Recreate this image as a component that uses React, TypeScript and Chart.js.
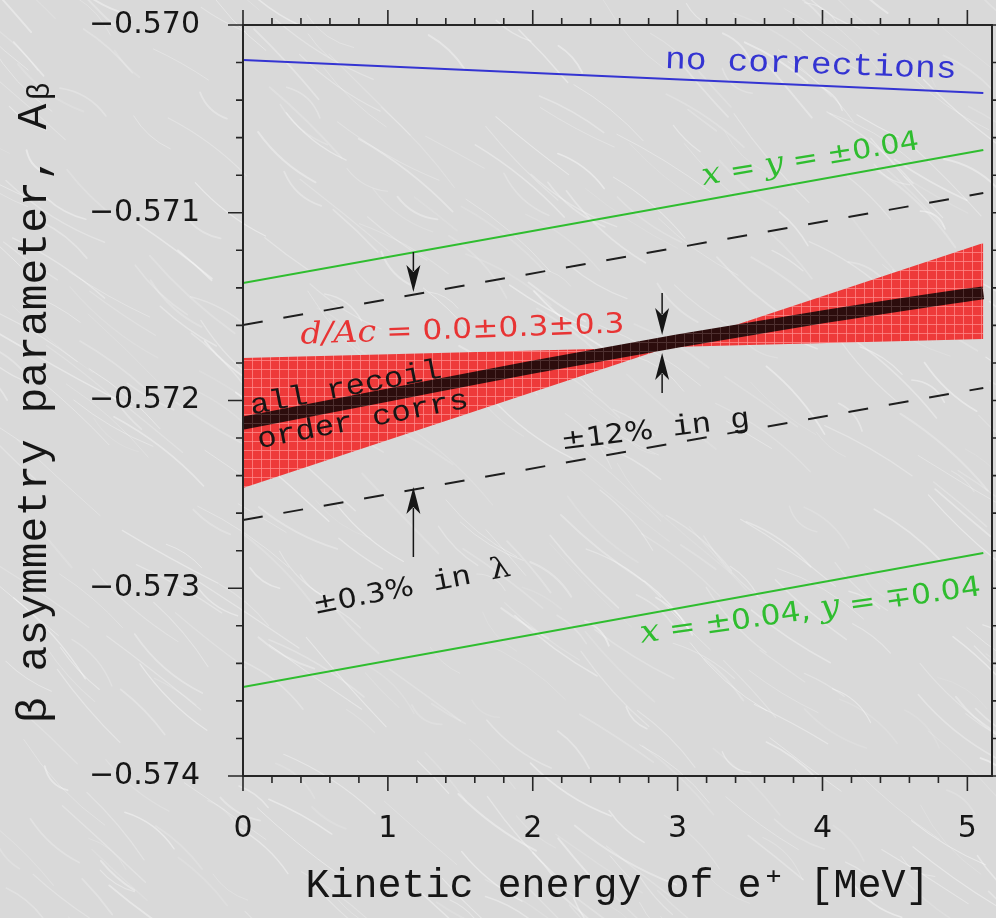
import React, { useEffect, useRef } from 'react';
import { Chart, registerables } from 'chart.js';

Chart.register(...registerables);

// ---------- data ----------
const xEnds = [0, 5.11];
const noCorrections = [-0.570186, -0.570362];
const xyEqual = [-0.571374, -0.570666];
const xyOpposite = [-0.573526, -0.572812];
const lambdaUpper = [-0.571598, -0.570895];
const lambdaLower = [-0.572637, -0.571933];
const recoilX = [0, 1, 2, 3, 4, 5, 5.11];
const allRecoil = [-0.57212, -0.571971, -0.571822, -0.571683, -0.571555, -0.571438, -0.571427];
const dAcFlat = [-0.571774, -0.571672];
const dAcSteep = [-0.572466, -0.571161];

const xTicks = [0, 1, 2, 3, 4, 5];
const yTicks = [-0.574, -0.573, -0.572, -0.571, -0.57];
const X_MIN = 0;
const X_MAX = 5.17;
const Y_MIN = -0.574;
const Y_MAX = -0.57;

// arrows: x position, tail value, tip value
const arrowX = [1.176, 1.176, 2.893, 2.893];
const arrowTail = [-0.571209, -0.5728335, -0.5714274, -0.5719601];
const arrowTip = [-0.5714221, -0.5724607, -0.5716511, -0.571747];

const MONO = '"Liberation Mono", "Courier New", monospace';
const SANS = '"DejaVu Sans", "Liberation Sans", sans-serif';
const SERIF = '"DejaVu Serif", "Liberation Serif", serif';

const BLUE = '#3434d2';
const GREEN = '#2fbd2f';
const RED = '#e83434';
const INK = '#161616';

type Seg = { t: string; f: string };
type Note = { x: number; y: number; rot: number; color: string; segs: Seg[] };

const notes: Note[] = [
  { x: 3.92, y: -0.5702024, rot: 2, color: BLUE, segs: [{ t: 'no corrections', f: `31px ${MONO}` }] },
  {
    x: 3.914, y: -0.5707031, rot: -9.5, color: GREEN,
    segs: [
      { t: 'x', f: `italic 30px ${SERIF}` }, { t: ' = ', f: `27px ${SANS}` },
      { t: 'y', f: `italic 30px ${SERIF}` }, { t: ' = ', f: `27px ${SANS}` },
      { t: '±0.04', f: `27px ${SANS}` },
    ],
  },
  {
    x: 1.514, y: -0.5716138, rot: -2, color: RED,
    segs: [
      { t: 'd/Ac', f: `italic 30px ${SERIF}` }, { t: ' = ', f: `28px ${SANS}` },
      { t: '0.0±0.3±0.3', f: `28px ${SANS}` },
    ],
  },
  { x: 0.707, y: -0.5719228, rot: -11, color: INK, segs: [{ t: 'all recoil', f: `29px ${MONO}` }] },
  { x: 0.824, y: -0.5720932, rot: -11, color: INK, segs: [{ t: 'order corrs', f: `29px ${MONO}` }] },
  {
    x: 2.845, y: -0.5721465, rot: -7, color: INK,
    segs: [{ t: '±12%', f: `27px ${SANS}` }, { t: ' in ', f: `29px ${MONO}` }, { t: 'g', f: `29px ${MONO}` }],
  },
  {
    x: 1.162, y: -0.5729827, rot: -11, color: INK,
    segs: [{ t: '±0.3%', f: `27px ${SANS}` }, { t: ' in ', f: `29px ${MONO}` }, { t: 'λ', f: `29px ${SERIF}` }],
  },
  {
    x: 3.914, y: -0.5731105, rot: -8, color: GREEN,
    segs: [
      { t: 'x', f: `italic 31px ${SERIF}` }, { t: ' = ', f: `28px ${SANS}` },
      { t: '±0.04, ', f: `28px ${SANS}` },
      { t: 'y', f: `italic 31px ${SERIF}` }, { t: ' = ', f: `28px ${SANS}` },
      { t: '∓0.04', f: `28px ${SANS}` },
    ],
  },
];

const pts = (xs: number[], ys: number[]) => xs.map((x, i) => ({ x, y: ys[i] }));

function gridPattern(base: string, line: string, cell: number) {
  const c = document.createElement('canvas');
  c.width = cell;
  c.height = cell;
  const g = c.getContext('2d')!;
  g.fillStyle = base;
  g.fillRect(0, 0, cell, cell);
  g.fillStyle = line;
  g.fillRect(0, 0, 1, cell);
  g.fillRect(0, 0, cell, 1);
  return g.createPattern(c, 'repeat')!;
}

function drawRich(ctx: CanvasRenderingContext2D, n: Note, px: number, py: number) {
  const stretch = 1.12;
  ctx.save();
  ctx.translate(px, py);
  ctx.rotate((n.rot * Math.PI) / 180);
  ctx.scale(stretch, 1);
  ctx.fillStyle = n.color;
  ctx.textBaseline = 'alphabetic';
  ctx.textAlign = 'left';
  let total = 0;
  const widths = n.segs.map((s) => {
    ctx.font = s.f;
    const w = ctx.measureText(s.t).width;
    total += w;
    return w;
  });
  let x = -total / 2;
  n.segs.forEach((s, i) => {
    ctx.font = s.f;
    ctx.fillText(s.t, x, 10);
    x += widths[i];
  });
  ctx.restore();
}

// deterministic hash used only for the decorative paper texture
const hash = (n: number) => {
  const s = Math.sin(n * 127.1 + 311.7) * 43758.5453;
  return s - Math.floor(s);
};

const bgPlugin = {
  id: 'paperBg',
  beforeDraw(chart: any) {
    const { ctx, width, height } = chart;
    ctx.save();
    ctx.fillStyle = '#d9d9d9';
    ctx.fillRect(0, 0, width, height);
    ctx.lineCap = 'round';
    for (let i = 0; i < 550; i++) {
      const x0 = hash(i) * (width + 100) - 50;
      const y0 = hash(i + 1000) * (height + 100) - 50;
      const len = 30 + hash(i + 2000) * 90;
      const ang = ((28 + hash(i + 3000) * 22) * Math.PI) / 180;
      const x1 = x0 + Math.cos(ang) * len;
      const y1 = y0 + Math.sin(ang) * len;
      const bend = (hash(i + 4000) - 0.5) * 24;
      const cx = (x0 + x1) / 2 - Math.sin(ang) * bend;
      const cy = (y0 + y1) / 2 + Math.cos(ang) * bend;
      ctx.strokeStyle = `rgba(255,255,255,${0.12 + hash(i + 5000) * 0.3})`;
      ctx.lineWidth = 0.8 + hash(i + 6000) * 1.2;
      ctx.beginPath();
      ctx.moveTo(x0, y0);
      ctx.quadraticCurveTo(cx, cy, x1, y1);
      ctx.stroke();
    }
    ctx.restore();
  },
};

const framePlugin = {
  id: 'frameTicks',
  afterDraw(chart: any) {
    const { ctx, chartArea } = chart;
    const { left, right, top, bottom } = chartArea;
    const xs = chart.scales.x;
    const ys = chart.scales.y;
    ctx.save();
    ctx.strokeStyle = '#262626';
    ctx.lineWidth = 2;
    ctx.strokeRect(left, top, right - left, bottom - top);
    ctx.lineWidth = 1.6;
    ctx.beginPath();
    for (let i = 0; i * 0.2 <= X_MAX + 1e-9; i++) {
      const px = xs.getPixelForValue(i * 0.2);
      const len = i % 5 === 0 ? 15 : 7;
      ctx.moveTo(px, bottom);
      ctx.lineTo(px, bottom + len);
      ctx.moveTo(px, top);
      ctx.lineTo(px, top - len);
    }
    for (let i = 0; i <= 20; i++) {
      const py = ys.getPixelForValue(Y_MIN + i * 0.0002);
      const len = i % 5 === 0 ? 15 : 7;
      ctx.moveTo(left, py);
      ctx.lineTo(left - len, py);
      ctx.moveTo(right, py);
      ctx.lineTo(right + len, py);
    }
    ctx.stroke();
    ctx.restore();
  },
};

const notesPlugin = {
  id: 'notes',
  afterDatasetsDraw(chart: any) {
    const { ctx } = chart;
    const xs = chart.scales.x;
    const ys = chart.scales.y;
    notes.forEach((n) => drawRich(ctx, n, xs.getPixelForValue(n.x), ys.getPixelForValue(n.y)));
    ctx.save();
    ctx.strokeStyle = INK;
    ctx.fillStyle = INK;
    ctx.lineWidth = 1.5;
    arrowX.forEach((ax, i) => {
      const px = xs.getPixelForValue(ax);
      const tail = ys.getPixelForValue(arrowTail[i]);
      const tip = ys.getPixelForValue(arrowTip[i]);
      const dir = tip > tail ? 1 : -1;
      const head = 27;
      ctx.beginPath();
      ctx.moveTo(px, tail);
      ctx.lineTo(px, tip - dir * (head - 6));
      ctx.stroke();
      ctx.beginPath();
      ctx.moveTo(px, tip);
      ctx.lineTo(px - 7, tip - dir * head);
      ctx.lineTo(px, tip - dir * (head - 7));
      ctx.lineTo(px + 7, tip - dir * head);
      ctx.closePath();
      ctx.fill();
    });
    ctx.restore();
  },
};

const zeroPad = (s: any) => {
  s.paddingTop = 0;
  s.paddingBottom = 0;
  s.paddingLeft = 0;
  s.paddingRight = 0;
};

export default function App() {
  const ref = useRef<HTMLCanvasElement>(null);

  useEffect(() => {
    const canvas = ref.current;
    if (!canvas) return;
    const redPat = gridPattern('#ee3a3a', 'rgba(255,140,140,0.75)', 9);
    const darkPat = gridPattern('#2c0d0d', '#4e3030', 9);
    const line = (data: any, color: any, width: number, dash: number[] = []) => ({
      data,
      borderColor: color,
      borderWidth: width,
      borderDash: dash,
      pointRadius: 0,
      fill: false,
    });
    const chart = new Chart(canvas, {
      type: 'line',
      data: {
        datasets: [
          { ...line(pts(recoilX, allRecoil), darkPat, 13), label: 'all recoil order corrs', cubicInterpolationMode: 'monotone' },
          { ...line(pts(xEnds, noCorrections), BLUE, 2), label: 'no corrections' },
          { ...line(pts(xEnds, xyEqual), GREEN, 2), label: 'x = y = ±0.04' },
          { ...line(pts(xEnds, xyOpposite), GREEN, 2), label: 'x = ±0.04, y = ∓0.04' },
          { ...line(pts(xEnds, lambdaUpper), '#1e1e1e', 2, [20, 21]), label: '+0.3% in λ' },
          { ...line(pts(xEnds, lambdaLower), '#1e1e1e', 2, [20, 21]), label: '−0.3% in λ' },
          { ...line(pts(xEnds, dAcFlat), 'rgba(0,0,0,0)', 0), label: 'd/Ac a' },
          {
            ...line(pts(xEnds, dAcSteep), 'rgba(0,0,0,0)', 0),
            label: 'd/Ac b',
            fill: { target: '-1', above: redPat, below: redPat },
            backgroundColor: redPat,
          },
        ] as any,
      },
      options: {
        responsive: false,
        animation: false,
        devicePixelRatio: 1,
        parsing: false as any,
        layout: { padding: { top: 25, right: 4, left: 0, bottom: 0 } },
        plugins: { legend: { display: false }, tooltip: { enabled: false }, title: { display: false } },
        scales: {
          x: {
            type: 'linear',
            min: X_MIN,
            max: X_MAX,
            position: 'bottom',
            afterBuildTicks: (s: any) => {
              s.ticks = xTicks.map((v) => ({ value: v }));
            },
            ticks: {
              font: { family: SANS, size: 30 },
              color: INK,
              padding: 35,
              maxRotation: 0,
              autoSkip: false,
              callback: (v: any) => String(v),
            },
            grid: { display: false, drawTicks: false },
            border: { display: false },
            title: {
              display: true,
              text: 'Kinetic energy of e⁺ [MeV]',
              font: { family: MONO, size: 40 },
              color: INK,
              padding: { top: 0, bottom: 8 },
            },
            afterFit: (s: any) => {
              s.height = 142;
              zeroPad(s);
            },
          },
          y: {
            type: 'linear',
            min: Y_MIN,
            max: Y_MAX,
            afterBuildTicks: (s: any) => {
              s.ticks = yTicks.map((v) => ({ value: v }));
            },
            ticks: {
              font: { family: SANS, size: 30 },
              color: INK,
              padding: 43,
              callback: (v: any) => '−' + Math.abs(Number(v)).toFixed(3),
            },
            grid: { display: false, drawTicks: false },
            border: { display: false },
            title: {
              display: true,
              text: 'β asymmetry parameter, Aᵦ',
              font: { family: MONO, size: 43 },
              color: INK,
              padding: { top: 9, bottom: 0 },
            },
            afterFit: (s: any) => {
              s.width = 243;
              zeroPad(s);
            },
          },
        },
      } as any,
      plugins: [bgPlugin, framePlugin, notesPlugin],
    });
    return () => chart.destroy();
  }, []);

  return (
    <div style={{ position: 'absolute', left: 0, top: 0, width: 996, height: 918 }}>
      <canvas ref={ref} width={996} height={918} style={{ display: 'block', width: 996, height: 918 }} />
    </div>
  );
}
